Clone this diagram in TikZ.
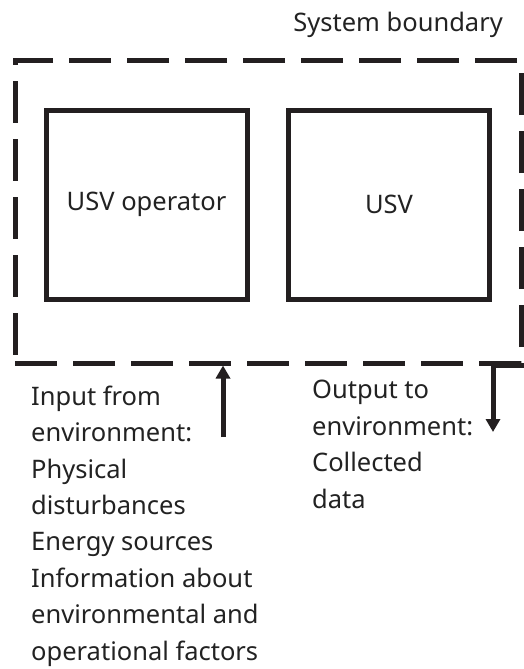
\documentclass[tikz,border=0pt]{standalone}
\usepackage{fontspec}
\setmainfont{Noto Sans}
\usetikzlibrary{arrows.meta}
\definecolor{ink}{HTML}{231F20}
\definecolor{txt}{HTML}{222222}
\begin{document}
\begin{tikzpicture}[x=1pt,y=-1pt,
  lbl/.style={text=txt,font=\fontsize{25.5}{36.4}\selectfont,inner sep=0pt},
  agent/.style={draw=ink,line width=5pt,minimum width=201pt,minimum height=189pt,inner sep=0pt,text=txt,font=\fontsize{25.5}{30}\selectfont},
  bound/.style={draw=ink,line width=5pt,dash pattern=on 42pt off 16pt,minimum width=506pt,minimum height=302pt,inner sep=0pt},
  flow/.style={draw=ink,line width=5pt,-{Triangle[width=14pt,length=13pt]}}]
\useasboundingbox (0,0) rectangle (524,669);
\node[bound] (boundary) at (268,212) {};
\node[agent] (op) at (146.5,204.5) {USV operator};
\node[agent] (usv) at (389,204.5) {USV};
\node[lbl,anchor=base east] (sb) at (503,32) {System boundary};
\coordinate (intail) at (223,437);
\coordinate (outtip) at (493,432);
\draw[flow] (intail) -- (intail |- boundary.south);
\draw[flow] (boundary.south east) -| (outtip);
\node[lbl,anchor=base west,align=left] (inlbl) at (31,660) {Input from\\environment:\\Physical\\disturbances\\Energy sources\\Information about\\environmental and\\operational factors};
\node[lbl,anchor=base west,align=left] (outlbl) at (312,508) {Output to\\environment:\\Collected\\data};
\end{tikzpicture}
\end{document}
